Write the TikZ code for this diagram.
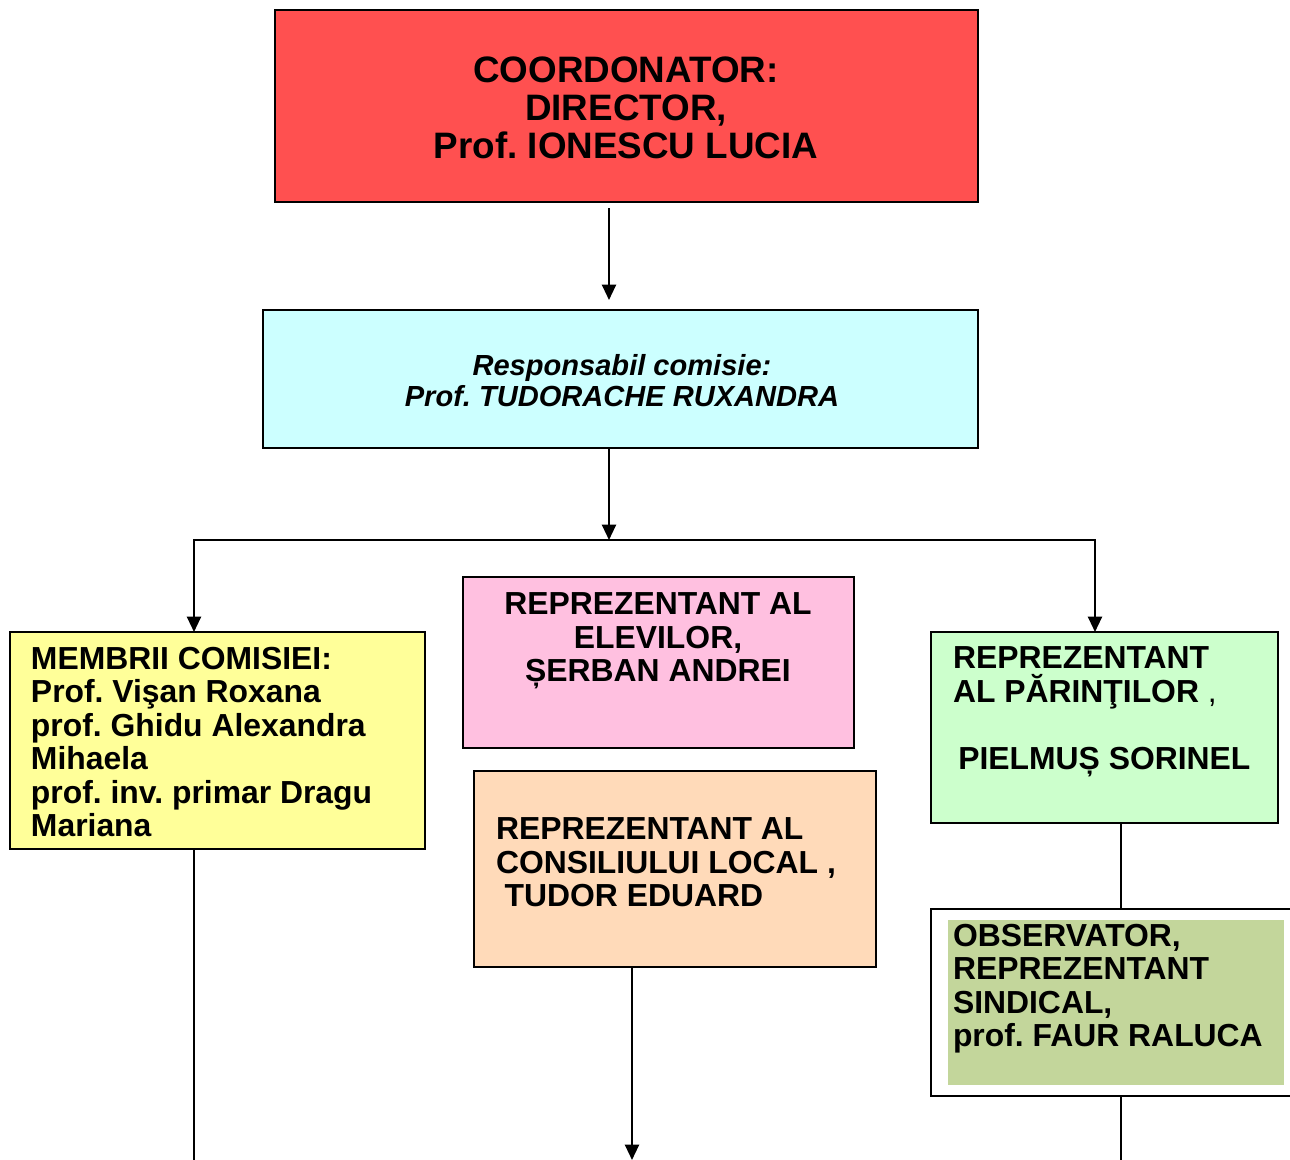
\documentclass[tikz,border=0pt]{standalone}
\usepackage{fontspec}
\setmainfont{Liberation Sans}
\usetikzlibrary{arrows.meta}
\definecolor{cred}{HTML}{FF5050}
\definecolor{cblue}{HTML}{CCFFFF}
\definecolor{cyellow}{HTML}{FFFF99}
\definecolor{cpink}{HTML}{FFC0E0}
\definecolor{cpeach}{HTML}{FFDAB9}
\definecolor{cgreen}{HTML}{CCFFCC}
\definecolor{colive}{HTML}{C3D69B}
\newcommand\FBig{\fontsize{27.6}{28.5}\selectfont\bfseries}
\newcommand\FSmall{\fontsize{23.9}{25.1}\selectfont\bfseries}
\newcommand\FBlue{\fontsize{21.8}{23.25}\selectfont\bfseries\itshape}
\frenchspacing
\begin{document}
\begin{tikzpicture}[x=0.75pt,y=-0.75pt,
  box/.style={draw=black, line width=1.5pt, inner sep=0pt, outer sep=0pt, anchor=north west},
  sz/.style 2 args={minimum width=#1*0.75pt, minimum height=#2*0.75pt},
  txt/.style={inner sep=0pt, outer sep=0pt, font=\FSmall, align=left, anchor=north west},
  conn/.style={line width=1.6pt},
  arr/.style={conn, -{Triangle[width=10.5pt,length=11.5pt]}}]
\useasboundingbox (0,0) rectangle (1290,1160);
\clip (0,0) rectangle (1290,1160);
% boxes
\node[box, fill=cred, sz={703}{192}] (red) at (275,10) {};
\node[box, fill=cblue, sz={715}{138}] (blue) at (263,310) {};
\node[box, fill=cyellow, sz={415}{217}] (yellow) at (10,632) {};
\node[box, fill=cpink, sz={391}{171}] (pink) at (463,577) {};
\node[box, fill=cpeach, sz={402}{196}] (peach) at (474,771) {};
\node[box, fill=cgreen, sz={347}{191}] (green) at (931,632) {};
\node[box, fill=white, sz={371}{187}] (obs) at (931,909) {};
\node[box, draw=none, fill=colive, sz={336}{165}] (obsfill) at (948,920) {};
% texts
\node[txt, font=\FBig, align=center, anchor=north] (tred) at (626,57)
  {COORDONATOR:\\DIRECTOR,\\Prof. IONESCU LUCIA};
\node[txt, font=\FBlue, align=center, anchor=north] (tblue) at (622,354)
  {Responsabil comisie:\\Prof. TUDORACHE RUXANDRA};
\node[txt, align=center, anchor=north] (tpink) at (658,593)
  {REPREZENTANT AL\\ELEVILOR,\\ȘERBAN ANDREI};
\node[txt] (tyellow) at (31,647)
  {MEMBRII COMISIEI:\\Prof. Vişan Roxana\\prof. Ghidu Alexandra\\Mihaela\\prof. inv. primar Dragu\\Mariana};
\node[txt] (tpeach) at (496,818)
  {REPREZENTANT AL\\CONSILIULUI LOCAL ,\\\hspace*{6.5pt}TUDOR EDUARD};
\node[txt] (tgreen) at (953,647)
  {REPREZENTANT\\AL PĂRINŢILOR {\mdseries ,}\\[25.1pt]\hspace*{4pt}PIELMUȘ SORINEL};
\node[txt] (tobs) at (953,924)
  {OBSERVATOR,\\REPREZENTANT\\SINDICAL,\\prof. FAUR RALUCA};
% connector coordinates
\coordinate (c1) at (609,540);
\coordinate (yx) at (194,0);
\coordinate (gx) at (1095,0);
\coordinate (px) at (632,0);
\coordinate (ox) at (1121,0);
\coordinate (bottom) at (0,1160);
% connectors
\draw[arr, shorten <=4.5pt, shorten >=7.5pt] (red.south -| c1) -- (blue.north -| c1);
\draw[arr] (blue.south -| c1) -- (c1);
\draw[conn, line cap=rect] (c1 -| yx) -- (c1 -| gx);
\draw[arr] (c1 -| yx) -- (yellow.north -| yx);
\draw[arr] (c1 -| gx) -- (green.north -| gx);
\draw[conn] (yellow.south -| yx) -- (bottom -| yx);
\draw[arr] (peach.south -| px) -- (bottom -| px);
\draw[conn] (green.south -| ox) -- (obs.north -| ox);
\draw[conn] (obs.south -| ox) -- (bottom -| ox);
\end{tikzpicture}
\end{document}
